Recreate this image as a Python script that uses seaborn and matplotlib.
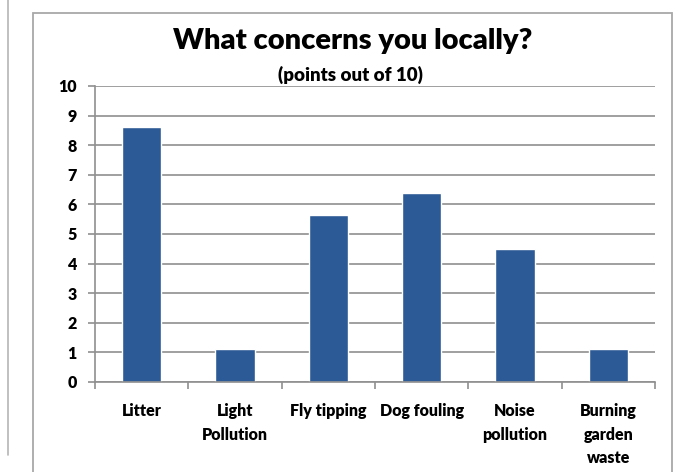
import matplotlib
matplotlib.use("Agg")
import matplotlib.pyplot as plt
from matplotlib.patches import Rectangle
from matplotlib.lines import Line2D
import seaborn as sns
import pandas as pd
import numpy as np

categories = ["Litter", "Light\nPollution", "Fly tipping", "Dog fouling",
              "Noise\npollution", "Burning\ngarden\nwaste"]
scores = [8.6, 1.1, 5.65, 6.4, 4.5, 1.1]
y_ticks = list(range(0, 11))

sns.set_theme(style="white")
plt.rcParams["font.family"] = ["Lato", "DejaVu Sans"]
plt.rcParams["font.weight"] = "bold"
plt.rcParams["text.color"] = "black"
plt.rcParams["xtick.color"] = "black"
plt.rcParams["ytick.color"] = "black"

df = pd.DataFrame({"concern": categories, "score": scores})

fig = plt.figure(figsize=(6.8, 4.72), dpi=100)
fig.patch.set_facecolor("white")

# outer chart frame and neighbouring panel edge
fig.add_artist(Rectangle((33 / 680, -0.05), (672 - 33) / 680, (472 - 13) / 472 + 0.05,
                         transform=fig.transFigure, fill=False,
                         edgecolor="#a8a8a8", linewidth=1.3))
fig.add_artist(Line2D([8 / 680, 8 / 680], [(472 - 455) / 472, 1.0],
                      transform=fig.transFigure, color="#b5b5b5", linewidth=1.2))

ax = fig.add_axes([95 / 680, 90 / 472, 560 / 680, 296 / 472])
sns.barplot(data=df, x="concern", y="score", color="#2c5a96", width=0.42,
            saturation=1, ax=ax)

ax.set_xlim(-0.5, len(categories) - 0.5)
ax.set_ylim(0, 10)
ax.set_yticks(y_ticks)
ax.set_yticklabels([str(t) for t in y_ticks], fontsize=11.5, fontweight="heavy")
ax.yaxis.grid(True, color="#8f8f8f", linewidth=1.2)
ax.set_axisbelow(True)

ax.set_xticks(range(len(categories)))
ax.set_xticklabels(categories, fontsize=11.5, fontweight="heavy", linespacing=1.6,
                   va="top")
ax.tick_params(axis="x", which="major", length=0, pad=15)
ax.set_xticks(np.arange(-0.5, len(categories)), minor=True)
ax.tick_params(axis="x", which="minor", length=5, color="#8f8f8f", width=1.2,
               direction="out", bottom=True)
ax.tick_params(axis="y", length=5, color="#8f8f8f", width=1.2, left=True,
               direction="out", pad=8)
ax.set_xlabel("")
ax.set_ylabel("")

for side in ["top", "right"]:
    ax.spines[side].set_visible(False)
ax.spines["left"].set_color("#8f8f8f")
ax.spines["left"].set_linewidth(1.2)
ax.spines["bottom"].set_color("#8f8f8f")
ax.spines["bottom"].set_linewidth(1.2)

fig.text(353 / 680, 1 - 41 / 472, "What concerns you locally?", ha="center",
         va="center", fontsize=21, fontweight="heavy", color="black")
fig.text(350 / 680, 1 - 75 / 472, "(points out of 10)", ha="center",
         va="center", fontsize=13.5, fontweight="heavy", color="black")

fig.savefig("out.png", dpi=100, facecolor="white")
